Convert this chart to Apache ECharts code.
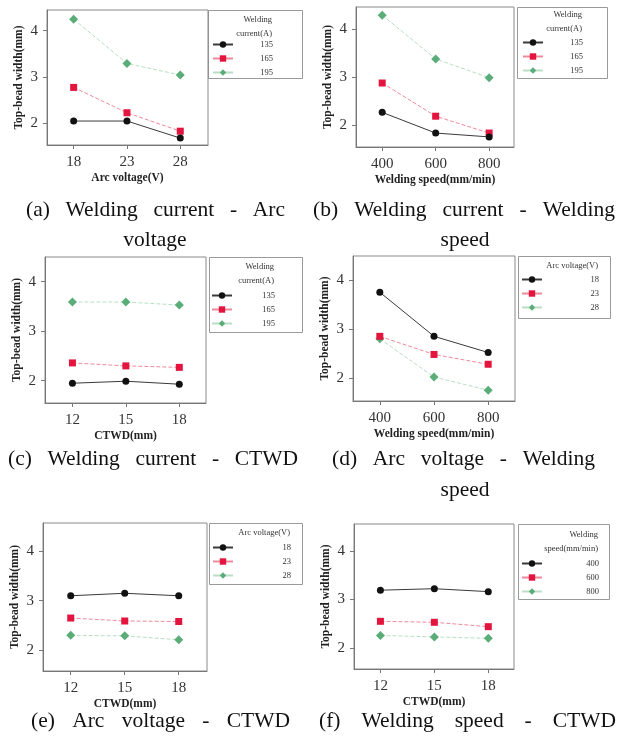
<!DOCTYPE html>
<html>
<head>
<meta charset="utf-8">
<script src="https://cdn.jsdelivr.net/npm/echarts@6/dist/echarts.min.js"></script>
<style>
  html, body { margin: 0; padding: 0; background: #fff; }
  #main { width: 627px; height: 737px; }
</style>
</head>
<body>
<div id="main"></div>
<script>
// Factor levels on the x axes
const arcVoltage = [18, 23, 28];
const weldingSpeed = [400, 600, 800];
const ctwd = [12, 15, 18];
const yTicks = [2, 3, 4];

// Legend levels
const currentLevels = ['135', '165', '195'];
const voltageLevels = ['18', '23', '28'];
const speedLevels = ['400', '600', '800'];

// (a) Welding current - Arc voltage
const a135 = [2.04, 2.04, 1.67];
const a165 = [2.77, 2.22, 1.82];
const a195 = [4.25, 3.29, 3.04];
// (b) Welding current - Welding speed
const b135 = [2.27, 1.84, 1.76];
const b165 = [2.88, 2.19, 1.84];
const b195 = [4.29, 3.38, 2.99];
// (c) Welding current - CTWD
const c135 = [1.95, 1.99, 1.93];
const c165 = [2.36, 2.30, 2.27];
const c195 = [3.59, 3.59, 3.53];
// (d) Arc voltage - Welding speed
const d18 = [3.76, 2.86, 2.53];
const d23 = [2.86, 2.49, 2.29];
const d28 = [2.81, 2.03, 1.76];
// (e) Arc voltage - CTWD
const e18 = [3.10, 3.15, 3.10];
const e23 = [2.65, 2.59, 2.58];
const e28 = [2.30, 2.29, 2.21];
// (f) Welding speed - CTWD
const f400 = [3.19, 3.22, 3.16];
const f600 = [2.55, 2.53, 2.44];
const f800 = [2.26, 2.23, 2.20];

const SERIF = '"Liberation Serif", "DejaVu Serif", serif';

const panels = [
  { id: 'a', xs: arcVoltage, xMin: 15.5, xMax: 30.6, yMin: 1.52, yMax: 4.45,
    grid: { left: 47, top: 10, width: 161, height: 135 },
    xName: 'Arc voltage(V)', levels: currentLevels, ys: [a135, a165, a195],
    legendTitle: ['Welding', 'current(A)'],
    box: [208, 10, 94, 68], titleRight: 272, titleTop: 20, itemsTop: 40, iconX: 212 },
  { id: 'b', xs: weldingSpeed, xMin: 302, xMax: 893, yMin: 1.55, yMax: 4.46,
    grid: { left: 356, top: 7, width: 158, height: 140 },
    xName: 'Welding speed(mm/min)', levels: currentLevels, ys: [b135, b165, b195],
    legendTitle: ['Welding', 'current(A)'],
    box: [517, 7, 90, 71], titleRight: 582, titleTop: 15, itemsTop: 38, iconX: 522 },
  { id: 'c', xs: ctwd, xMin: 10.46, xMax: 19.5, yMin: 1.55, yMax: 4.5,
    grid: { left: 45, top: 257, width: 161, height: 146 },
    xName: 'CTWD(mm)', levels: currentLevels, ys: [c135, c165, c195],
    legendTitle: ['Welding', 'current(A)'],
    box: [209, 257, 93, 75], titleRight: 274, titleTop: 267, itemsTop: 291, iconX: 211 },
  { id: 'd', xs: weldingSpeed, xMin: 301, xMax: 899, yMin: 1.54, yMax: 4.5,
    grid: { left: 353, top: 256, width: 162, height: 145 },
    xName: 'Welding speed(mm/min)', levels: voltageLevels, ys: [d18, d23, d28],
    legendTitle: ['Arc voltage(V)'],
    box: [518, 256, 92, 62], titleRight: 598, titleTop: 266, itemsTop: 275, iconX: 521 },
  { id: 'e', xs: ctwd, xMin: 10.46, xMax: 19.57, yMin: 1.58, yMax: 4.57,
    grid: { left: 43, top: 523, width: 164, height: 148 },
    xName: 'CTWD(mm)', levels: voltageLevels, ys: [e18, e23, e28],
    legendTitle: ['Arc voltage(V)'],
    box: [209, 523, 93, 61], titleRight: 290, titleTop: 533, itemsTop: 543, iconX: 212 },
  { id: 'f', xs: ctwd, xMin: 10.53, xMax: 19.43, yMin: 1.57, yMax: 4.55,
    grid: { left: 354, top: 524, width: 160, height: 145 },
    xName: 'CTWD(mm)', levels: speedLevels, ys: [f400, f600, f800],
    legendTitle: ['Welding', 'speed(mm/min)'],
    box: [518, 524, 91, 75], titleRight: 598, titleTop: 535, itemsTop: 559, iconX: 521 }
];

// Marker and line styling for the three levels of each factor
const levelStyles = [
  { symbol: 'circle', size: 7, color: '#111111', line: '#3a3a3a', type: 'solid' },
  { symbol: 'rect', size: 7, color: '#e3153f', line: '#ee8a9c', type: 'dashed' },
  { symbol: 'diamond', size: 9, color: '#5aad78', line: '#b9dfc6', type: 'dashed' }
];

const captions = [
  { lines: [{ words: ['(a)', 'Welding', 'current', '-', 'Arc'], x0: 26, x1: 285, y: 210 },
            { center: 155, text: 'voltage', y: 240 }] },
  { lines: [{ words: ['(b)', 'Welding', 'current', '-', 'Welding'], x0: 313, x1: 615, y: 210 },
            { center: 465, text: 'speed', y: 240 }] },
  { lines: [{ words: ['(c)', 'Welding', 'current', '-', 'CTWD'], x0: 8, x1: 298, y: 459 }] },
  { lines: [{ words: ['(d)', 'Arc', 'voltage', '-', 'Welding'], x0: 332, x1: 595, y: 459 },
            { center: 465, text: 'speed', y: 490 }] },
  { lines: [{ words: ['(e)', 'Arc', 'voltage', '-', 'CTWD'], x0: 31, x1: 290, y: 721 }] },
  { lines: [{ words: ['(f)', 'Welding', 'speed', '-', 'CTWD'], x0: 319, x1: 616, y: 721 }] }
];

const CAPTION_FONT = '21.5px ' + SERIF;
const measureCtx = document.createElement('canvas').getContext('2d');
measureCtx.font = CAPTION_FONT;
function textWidth(s) { return measureCtx.measureText(s).width; }

function textEl(text, x, y, font, align, vAlign, fill) {
  return {
    type: 'text', silent: true,
    style: { text: text, x: x, y: y, font: font, fill: fill || '#111',
             align: align, textAlign: align, verticalAlign: vAlign, textVerticalAlign: vAlign }
  };
}

const grids = [], xAxes = [], yAxes = [], series = [], legends = [], graphics = [];

panels.forEach(function (p, i) {
  grids.push(Object.assign({ show: true, borderColor: '#8a8a8a', borderWidth: 1,
                             backgroundColor: '#ffffff' }, p.grid));
  xAxes.push({
    type: 'value', gridIndex: i, min: p.xMin, max: p.xMax,
    name: p.xName, nameLocation: 'middle', nameGap: 27,
    nameTextStyle: { fontFamily: SERIF, fontWeight: 'bold', fontSize: 11.5, color: '#222' },
    axisLine: { show: true, lineStyle: { color: '#777', width: 1 } },
    axisTick: { show: true, length: 4, inside: false, customValues: p.xs,
                lineStyle: { color: '#777' } },
    axisLabel: { customValues: p.xs, margin: 10, fontFamily: SERIF, fontSize: 15, color: '#333' },
    splitLine: { show: false }
  });
  yAxes.push({
    type: 'value', gridIndex: i, min: p.yMin, max: p.yMax,
    name: 'Top-bead width(mm)', nameLocation: 'middle', nameGap: 22,
    nameTextStyle: { fontFamily: SERIF, fontWeight: 'bold', fontSize: 11.5, color: '#222' },
    axisLine: { show: true, lineStyle: { color: '#777', width: 1 } },
    axisTick: { show: true, length: 4, inside: false, customValues: yTicks,
                lineStyle: { color: '#777' } },
    axisLabel: { customValues: yTicks, margin: 9, fontFamily: SERIF, fontSize: 15, color: '#333' },
    splitLine: { show: false }
  });

  const names = [];
  p.levels.forEach(function (lv, k) {
    const st = levelStyles[k];
    const name = p.id + ':' + lv;
    names.push(name);
    series.push({
      type: 'line', name: name, xAxisIndex: i, yAxisIndex: i,
      data: p.xs.map(function (x, j) { return [x, p.ys[k][j]]; }),
      symbol: st.symbol, symbolSize: st.size, showSymbol: true,
      itemStyle: { color: st.color },
      lineStyle: { color: st.line, width: 1, type: st.type },
      z: 3 - k, animation: false
    });
  });

  legends.push({
    data: names, orient: 'vertical', left: p.iconX, top: p.itemsTop,
    itemWidth: 20, itemHeight: 8, itemGap: 5, padding: 0,
    selectedMode: false,
    formatter: function (n) { return '{r|' + n.split(':')[1] + '}'; },
    textStyle: {
      fontFamily: SERIF, fontSize: 8.5, color: '#333',
      rich: { r: { width: p.titleRight - p.iconX - 25, align: 'right',
                   fontFamily: SERIF, fontSize: 8.5, color: '#333' } }
    }
  });

  // legend frame and title
  graphics.push({
    type: 'rect', silent: true,
    shape: { x: p.box[0] + 0.5, y: p.box[1] + 0.5, width: p.box[2], height: p.box[3] },
    style: { fill: '#fff', stroke: '#9a9a9a', lineWidth: 1 }, z: -1
  });
  p.legendTitle.forEach(function (t, k) {
    graphics.push(textEl(t, p.titleRight, p.titleTop + k * 14, '8.5px ' + SERIF, 'right', 'middle', '#333'));
  });
});

// sub-figure captions, justified between their end points
captions.forEach(function (c) {
  c.lines.forEach(function (ln) {
    if (ln.words) {
      const widths = ln.words.map(textWidth);
      const total = widths.reduce(function (s, w) { return s + w; }, 0);
      const gap = (ln.x1 - ln.x0 - total) / (ln.words.length - 1);
      let x = ln.x0;
      ln.words.forEach(function (w, k) {
        graphics.push(textEl(w, x, ln.y, CAPTION_FONT, 'left', 'middle', '#111'));
        x += widths[k] + gap;
      });
    } else {
      graphics.push(textEl(ln.text, ln.center, ln.y, CAPTION_FONT, 'center', 'middle', '#111'));
    }
  });
});

const chart = echarts.init(document.getElementById('main'), null, { renderer: 'canvas' });
chart.setOption({
  backgroundColor: '#ffffff',
  animation: false,
  grid: grids,
  xAxis: xAxes,
  yAxis: yAxes,
  legend: legends,
  series: series,
  graphic: { elements: graphics }
});
</script>
</body>
</html>
